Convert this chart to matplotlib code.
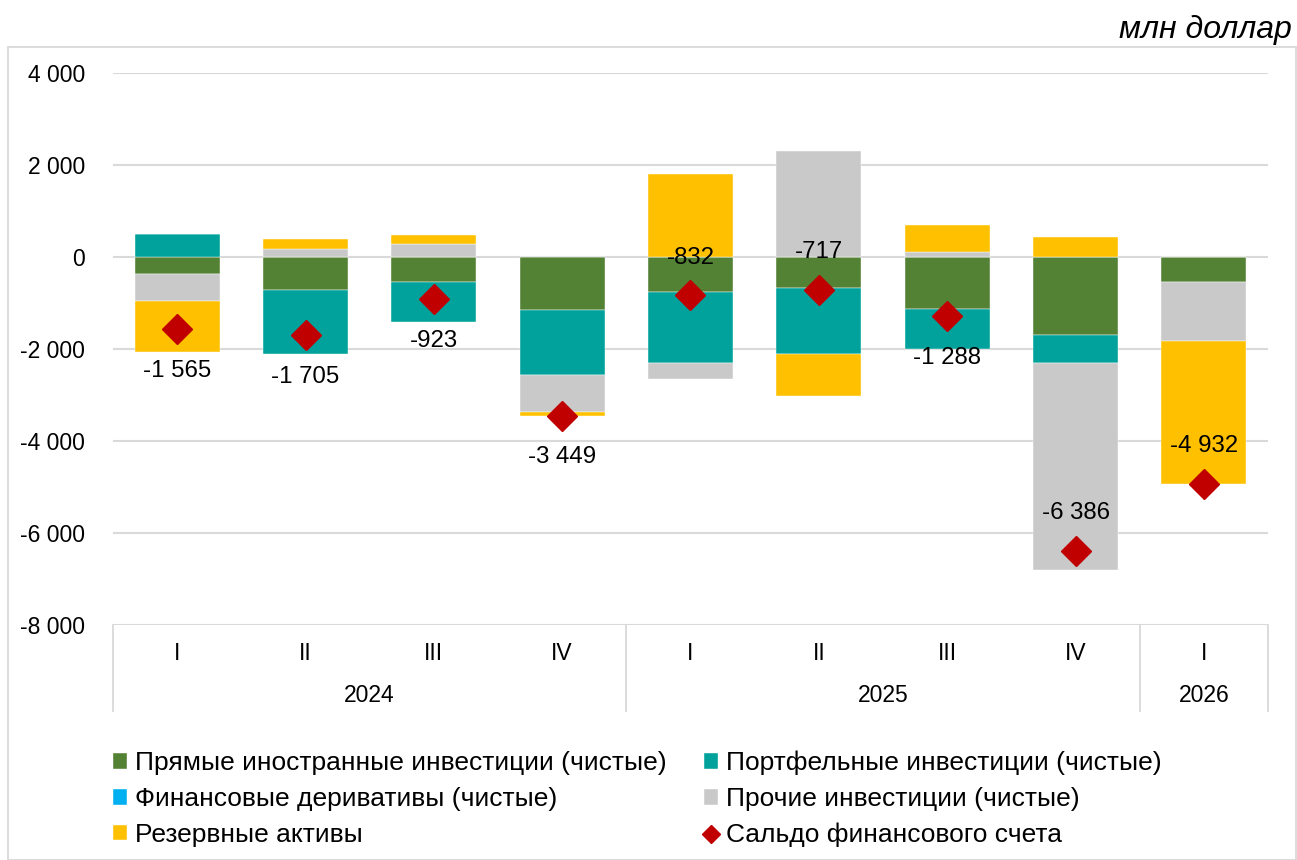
import numpy as np
import matplotlib
matplotlib.use("Agg")
import matplotlib.pyplot as plt
from matplotlib.patches import Rectangle
from matplotlib.lines import Line2D
import matplotlib.transforms as mtransforms

plt.rcParams['font.family'] = ['Liberation Sans', 'DejaVu Sans']

quarters = ['I', 'II', 'III', 'IV', 'I', 'II', 'III', 'IV', 'I']
years = ['2024', '2025', '2026']
year_spans = [(0, 3), (4, 7), (8, 8)]

# млн доллар
fdi = [-370, -717, -536, -1150, -754, -681, -1130, -1702, -536]
portfolio = [500, -1390, -867, -1420, -1550, -1421, -860, -600, 0]
derivatives = [0, 0, 0, 0, 0, 0, 0, 0, 0]
other = [-590, 167, 290, -810, -340, 2304, 100, -4510, -1300]
reserves = [-1105, 217, 190, -69, 1812, -919, 602, 426, -3096]
balance = [-1565, -1705, -923, -3449, -832, -717, -1288, -6386, -4932]
label_side = ['below', 'below', 'below', 'below', 'above', 'above', 'below', 'above', 'above']

names = ['Прямые иностранные инвестиции (чистые)',
         'Портфельные инвестиции (чистые)',
         'Финансовые деривативы (чистые)',
         'Прочие инвестиции (чистые)',
         'Резервные активы',
         'Сальдо финансового счета']
colors = ['#548235', '#00A29B', '#00B0F0', '#C9C9C9', '#FFC000']
series = [fdi, portfolio, derivatives, other, reserves]

fig = plt.figure(figsize=(12.97, 8.6), dpi=100)
ax = fig.add_axes([113 / 1297, 1 - 625 / 860, (1268 - 113) / 1297, (625 - 73) / 860])

x = np.arange(len(quarters))
pos_base = np.zeros(len(x))
neg_base = np.zeros(len(x))
handles = []
for vals, c, n in zip(series, colors, names):
    v = np.array(vals, dtype=float)
    bottom = np.where(v >= 0, pos_base, neg_base)
    b = ax.bar(x, v, 0.66, bottom=bottom, color=c, label=n, zorder=3,
               edgecolor='white', linewidth=0.3)
    handles.append(b)
    pos_base = pos_base + np.where(v > 0, v, 0)
    neg_base = neg_base + np.where(v < 0, v, 0)

ax.plot(x, balance, linestyle='none', marker='D', markersize=15.5,
        color='#C00000', zorder=5)
pts = Line2D([], [], linestyle='none', marker='D', markersize=9,
             color='#C00000', label=names[5])

for xi, val, side in zip(x, balance, label_side):
    txt = f"{val:,.0f}".replace(',', '\u00a0')
    off = -30 if side == 'below' else 27
    ax.annotate(txt, (xi, val), xytext=(0, off), textcoords='offset points',
                ha='center', va='center', fontsize=17.3, zorder=6)

ax.set_xlim(-0.5, len(x) - 0.5)
ax.set_ylim(-8000, 4000)
ax.set_yticks(np.arange(-8000, 4001, 2000))
ax.set_yticklabels([f"{v:,.0f}".replace(',', ' ') for v in np.arange(-8000, 4001, 2000)],
                   fontsize=16.5)
ax.tick_params(axis='y', length=0, pad=20)
ax.grid(axis='y', color='#D9D9D9', linewidth=1.5, zorder=0)
ax.set_axisbelow(True)
for s in ax.spines.values():
    s.set_visible(False)

ax.set_xticks([])
trans = mtransforms.blended_transform_factory(ax.transData, ax.transAxes)
for xi, q in zip(x, quarters):
    ax.text(xi, -0.052, q, transform=trans, ha='center', va='center', fontsize=16.5)
for (a, b_), yr in zip(year_spans, years):
    ax.text((a + b_) / 2, -0.128, yr, transform=trans, ha='center', va='center', fontsize=16.5)
for sep in [-0.5, 3.5, 7.5, 8.5]:
    ax.add_line(Line2D([sep, sep], [0, -0.155], transform=trans, color='#D9D9D9',
                       linewidth=1.3, clip_on=False))

fig.patches.append(Rectangle((8 / 1297, 0), 1 - 8 / 1297 - 0.001, 1 - 47 / 860,
                             transform=fig.transFigure, fill=False,
                             edgecolor='#D9D9D9', linewidth=1.3))

fig.text(1292 / 1297, 1 - 30 / 860, 'млн доллар', ha='right', va='center',
         fontsize=23, style='italic')

order = [handles[0], handles[2], handles[4], handles[1], handles[3], pts]
leg = fig.legend(order, [h.get_label() for h in order], ncol=2, loc='upper left',
                 bbox_to_anchor=(102 / 1297, 1 - 740 / 860), frameon=False,
                 fontsize=19, handlelength=0.55, handleheight=0.55,
                 handletextpad=0.3, columnspacing=1.4, labelspacing=0.45,
                 borderaxespad=0)

fig.savefig('out.png', dpi=100)
